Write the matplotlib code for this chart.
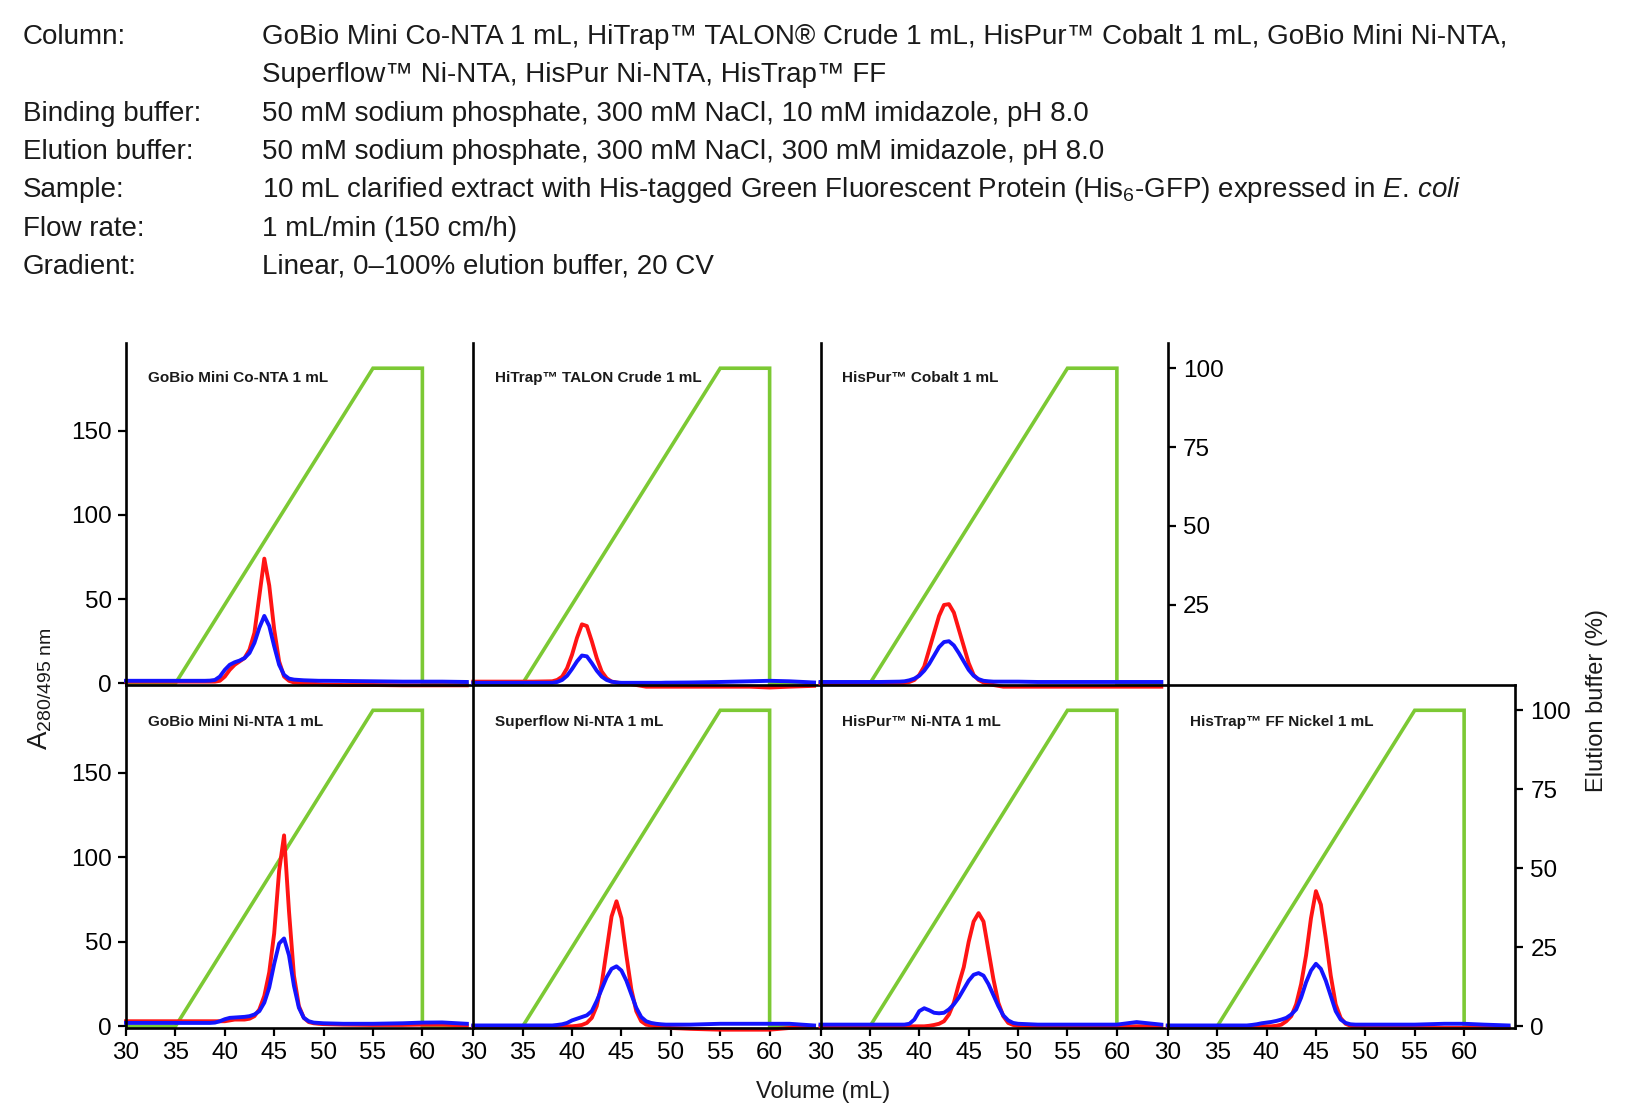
import matplotlib
matplotlib.use('Agg')
import matplotlib.pyplot as plt

plt.rcParams['font.family'] = ['Liberation Sans', 'DejaVu Sans']
plt.rcParams['mathtext.fontset'] = 'custom'
plt.rcParams['mathtext.rm'] = 'Liberation Sans'
plt.rcParams['mathtext.it'] = 'Liberation Sans:italic'

# run conditions (header block)
cond_names = ['Column:', '', 'Binding buffer:', 'Elution buffer:', 'Sample:', 'Flow rate:', 'Gradient:']
cond_values = [
    'GoBio Mini Co-NTA 1 mL, HiTrap\u2122 TALON\u00ae Crude 1 mL, HisPur\u2122 Cobalt 1 mL, GoBio Mini Ni-NTA,',
    'Superflow\u2122 Ni-NTA, HisPur Ni-NTA, HisTrap\u2122 FF',
    '50 mM sodium phosphate, 300 mM NaCl, 10 mM imidazole, pH 8.0',
    '50 mM sodium phosphate, 300 mM NaCl, 300 mM imidazole, pH 8.0',
    r'10 mL clarified extract with His-tagged Green Fluorescent Protein (His$_6$-GFP) expressed in $\mathit{E.\,coli}$',
    '1 mL/min (150 cm/h)',
    'Linear, 0\u2013100% elution buffer, 20 CV',
]

titles = ['GoBio Mini Co-NTA 1 mL', 'HiTrap\u2122 TALON Crude 1 mL', 'HisPur\u2122 Cobalt 1 mL',
          'GoBio Mini Ni-NTA 1 mL', 'Superflow Ni-NTA 1 mL', 'HisPur\u2122 Ni-NTA 1 mL',
          'HisTrap\u2122 FF Nickel 1 mL']

# volume grid (mL) the traces were read at
vol = [30, 32, 34, 36, 38, 38.5, 39, 39.5, 40, 40.5, 41, 41.5, 42, 42.5, 43, 43.5, 44, 44.5,
       45, 45.5, 46, 46.5, 47, 47.5, 48, 48.5, 49, 49.5, 50, 52, 55, 58, 60, 62, 64.5]

# gradient, % elution buffer
grad_vol = [30, 35, 55, 60, 60, 64.5]
grad_pct = [0, 0, 100, 100, 0, 0]

# A280 (red) and A495 (blue) traces
red_gobio_co = [1, 1, 1, 1, 1, 1, 1, 1.5, 4, 8, 11, 13, 15, 20, 30, 52, 74, 58,
                32, 13, 4, 1.5, 0.5, 0.3, 0, 0, -0.3, -0.5, -0.7, -1, -1, -1.2, -1.2, -1.2, -1.2]
blue_gobio_co = [1.5, 1.5, 1.5, 1.5, 1.5, 1.6, 2, 4, 8, 11, 12.5, 13.5, 15, 18, 24, 33, 40, 34,
                 22, 11, 5, 2.8, 2.2, 2, 1.8, 1.7, 1.6, 1.5, 1.5, 1.4, 1.2, 1, 1, 1, 0.8]

red_talon = [1, 1, 1, 1, 1.2, 2, 4, 9, 17, 27, 35, 34, 25, 15, 7, 3, 1, 0.5,
             0, 0, -0.5, -1, -1.5, -2, -2, -2, -2, -2, -2, -2, -2, -2, -2.5, -2, -1.5]
blue_talon = [0.3, 0.3, 0.3, 0.3, 0.3, 0.8, 2, 4.5, 8.5, 13, 16.5, 16, 12, 7.5, 4, 2, 1, 0.5,
              0.3, 0.3, 0.3, 0.3, 0.3, 0.3, 0.3, 0.3, 0.3, 0.4, 0.4, 0.5, 0.8, 1.2, 1.5, 1.2, 0.5]

red_hispur_co = [0, 0, 0, 0, 0, 0.2, 0.8, 2, 5, 10, 20, 30, 40, 46.5, 47, 42, 32, 22,
                 12, 5, 2, 0.5, -0.5, -1, -1.5, -2, -2, -2, -2, -2, -2, -2, -2, -2, -2]
blue_hispur_co = [0.8, 0.8, 0.8, 0.8, 1, 1.2, 1.8, 2.8, 4.5, 7.5, 11.5, 16.5, 21.5, 24.5, 25, 22.5, 18, 13,
                  8, 4.5, 2.5, 1.5, 1.2, 1, 1, 1, 1, 1, 1, 0.8, 0.8, 0.8, 0.8, 0.8, 0.8]

red_gobio_ni = [3, 3, 3, 3, 3, 3, 3, 3, 3, 3.5, 4, 4, 4, 4.5, 6, 10, 18, 32,
                55, 92, 113, 68, 30, 12, 5, 2.5, 1.8, 1.5, 1.3, 1, 0.8, 0.8, 1, 1, 0.5]
blue_gobio_ni = [2, 2, 2, 2, 2, 2, 2.2, 3, 4.2, 5, 5.2, 5.4, 5.6, 6, 7, 9, 14, 23,
                 37, 49, 52, 42, 24, 11, 5, 3, 2.2, 2, 1.8, 1.5, 1.5, 1.8, 2.2, 2.3, 1.5]

red_superflow = [0, 0, 0, 0, 0, 0, 0, 0, 0, 0.3, 0.8, 2, 5, 12, 25, 45, 65, 74,
                 64, 42, 22, 9, 3, 1, 0.5, 0, -0.3, -0.5, -1, -1.5, -2, -2, -2, -1, -0.5]
blue_superflow = [0.5, 0.5, 0.5, 0.5, 0.5, 0.8, 1.2, 2, 3.5, 4.5, 5.5, 6.5, 9, 15, 22, 29, 34, 35.5,
                  33, 27, 19, 11, 5.5, 3, 2, 1.5, 1.2, 1, 1, 1, 1.5, 1.5, 1.5, 1.5, 0.5]

red_hispur_ni = [0, 0, 0, 0, 0, 0, 0, 0, 0, 0, 0.3, 0.8, 1.5, 3, 7, 14, 25, 35,
                 50, 62, 67, 62, 45, 28, 14, 6, 2, 0.8, 0.3, 0, -0.5, -0.5, -0.5, 0, 0]
blue_hispur_ni = [1, 1, 1, 1, 1, 1, 1.5, 4, 9, 10.7, 9.5, 8, 7.7, 8, 10, 13, 17, 22,
                  27, 30.5, 31.5, 30, 25, 18.5, 12, 6.5, 3.5, 2, 1.5, 1, 1, 1, 1, 2.5, 1]

red_histrap = [0, 0, 0, 0, 0, 0, 0, 0, 0, 0, 0.3, 1, 3, 6, 13, 25, 42, 64,
               80, 72, 52, 30, 13, 5, 1.5, 0.3, -0.3, -0.5, -1, -1, -1, -1, -1, -1, -1]
blue_histrap = [0.5, 0.5, 0.5, 0.5, 0.5, 0.8, 1.2, 1.8, 2.2, 2.6, 3.2, 4, 5, 7, 10, 17, 26, 33,
                37, 34, 27, 18, 9, 4, 2, 1.2, 1, 1, 1, 1, 1, 1.5, 1.5, 1, 0.5]

red_traces = [red_gobio_co, red_talon, red_hispur_co, red_gobio_ni, red_superflow, red_hispur_ni, red_histrap]
blue_traces = [blue_gobio_co, blue_talon, blue_hispur_co, blue_gobio_ni, blue_superflow, blue_hispur_ni, blue_histrap]

# panel slots: (row, col)
slots = [(0, 0), (0, 1), (0, 2), (1, 0), (1, 1), (1, 2), (1, 3)]

W, H = 1634, 1104
fig = plt.figure(figsize=(W / 100, H / 100), dpi=100)

txt_col = '#1a1a1a'
for i, (name, val) in enumerate(zip(cond_names, cond_values)):
    yb = 1 - (44 + i * 38.3) / H
    fig.text(23 / W, yb, name, fontsize=20, va='baseline', ha='left', color=txt_col)
    fig.text(262 / W, yb, val, fontsize=20, va='baseline', ha='left', color=txt_col)

x0, pw = 126, 347.25
row_top = [343, 685]
row_bot = [685, 1028]

for k, (row, col) in enumerate(slots):
    left = (x0 + col * pw) / W
    bottom = 1 - row_bot[row] / H
    height = (row_bot[row] - row_top[row]) / H
    ax = fig.add_axes([left, bottom, pw / W, height])
    ax2 = ax.twinx()
    ax.set_zorder(ax2.get_zorder() + 1)
    ax.patch.set_visible(False)

    ax2.plot(grad_vol, grad_pct, color='#7cc934', lw=2.6, solid_joinstyle='miter')
    ax.plot(vol, red_traces[k], color='#ff1414', lw=2.8, clip_on=False,
            solid_joinstyle='round')
    ax.plot(vol, blue_traces[k], color='#1414ff', lw=2.8, clip_on=False,
            solid_joinstyle='round')

    ax.set_xlim(30, 65.15)
    ax.set_ylim(-1, 202)
    ax2.set_ylim(-0.5, 108)

    for s in ['top', 'right']:
        ax.spines[s].set_visible(False)
    for s in ['top', 'left', 'bottom', 'right']:
        ax2.spines[s].set_visible(False)
    ax.spines['left'].set_linewidth(1.9)
    ax.spines['bottom'].set_linewidth(1.9)

    ax.tick_params(axis='both', direction='out', length=6, width=1.6, labelsize=17.5, pad=4)
    ax.set_yticks([0, 50, 100, 150])
    ax.set_xticks([30, 35, 40, 45, 50, 55, 60])
    if col != 0:
        ax.tick_params(axis='y', left=False, labelleft=False)
    if row == 0:
        ax.tick_params(axis='x', bottom=False, labelbottom=False)

    ax2.tick_params(axis='y', right=False, labelright=False)
    if (row, col) in [(0, 2), (1, 3)]:
        ax2.spines['right'].set_visible(True)
        ax2.spines['right'].set_linewidth(1.9)
        ax2.tick_params(axis='y', right=True, labelright=True, direction='out',
                        length=6, width=1.6, labelsize=17.5, pad=5)
        if row == 0:
            ax2.set_yticks([25, 50, 75, 100])
        else:
            ax2.set_yticks([0, 25, 50, 75, 100])
    if (row, col) == (1, 3):
        ax2.spines['top'].set_visible(True)
        ax2.spines['top'].set_linewidth(1.9)

    ty = 0.898 if row == 0 else 0.892
    ax.text(0.063, ty, titles[k], transform=ax.transAxes, fontsize=11,
            fontweight='bold', va='center', ha='left', color=txt_col)

fig.text(40 / W, 1 - 689 / H, r'A$_{280/495\ \mathrm{nm}}$', rotation=90,
         fontsize=20, va='center', ha='center', color=txt_col)
fig.text(1597 / W, 1 - 701 / H, 'Elution buffer (%)', rotation=90,
         fontsize=17, va='center', ha='center', color=txt_col)
fig.text(823 / W, 1 - 1092 / H, 'Volume (mL)', fontsize=17,
         va='center', ha='center', color=txt_col)

fig.savefig('out.png', dpi=100)
